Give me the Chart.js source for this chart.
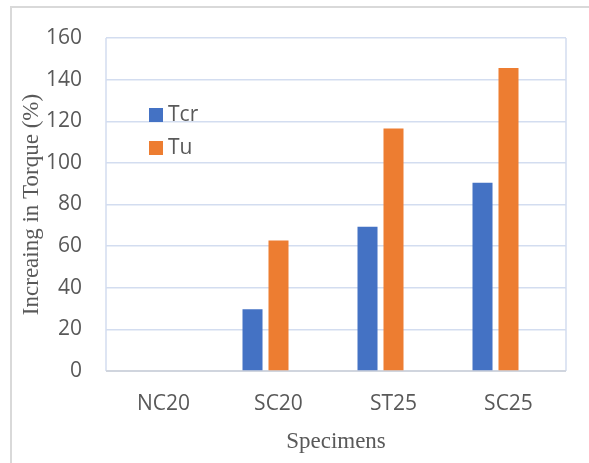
<!DOCTYPE html>
<html>
<head>
<meta charset="utf-8">
<script src="https://cdn.jsdelivr.net/npm/chart.js@4"></script>
<style>
  html, body { margin: 0; padding: 0; background: #fff; }
  #wrap { position: relative; width: 589px; height: 463px; overflow: hidden; }
  #legend { position: absolute; left: 149px; top: 101px; font-family: "Open Sans", sans-serif; font-size: 21px; color: #595959; }
  #legend .item { height: 33px; line-height: 24px; white-space: nowrap; }
  #legend .box { display: inline-block; width: 14px; height: 14px; margin-right: 5px; vertical-align: -1px; }
</style>
</head>
<body>
<div id="wrap">
  <canvas id="torqueChart" width="589" height="463"></canvas>
  <div id="legend"></div>
</div>
<script>
// data
var specimens = ["NC20", "SC20", "ST25", "SC25"];
var tcrValues = [0, 29.7, 69.3, 90.4];
var tuValues  = [0, 62.7, 116.5, 145.6];
var spareSlot = [null, null, null, null]; // empty third series in the original sheet
var yTicks    = [0, 20, 40, 60, 80, 100, 120, 140, 160];

var gridBlue = "#D3DDF0";
var textGrey = "#595959";

// frame around the picture + plot area border
var framePlugin = {
  id: "frame",
  beforeDraw: function(chart) {
    var c = chart.ctx;
    c.save();
    c.strokeStyle = "#D9D9D9";
    c.lineWidth = 2;
    c.beginPath();
    c.moveTo(11, 470);
    c.lineTo(11, 7);
    c.lineTo(600, 7);
    c.stroke();
    c.restore();
  },
  beforeDatasetsDraw: function(chart) {
    var a = chart.chartArea, c = chart.ctx;
    c.save();
    c.strokeStyle = gridBlue;
    c.lineWidth = 1.5;
    c.beginPath();
    c.moveTo(a.left, a.top);
    c.lineTo(a.left, a.bottom);
    c.moveTo(a.right, a.top);
    c.lineTo(a.right, a.bottom);
    c.stroke();
    c.strokeStyle = "#D0D5DE";
    c.lineWidth = 2;
    c.beginPath();
    c.moveTo(a.left, a.bottom);
    c.lineTo(a.right, a.bottom);
    c.stroke();
    c.restore();
  }
};

var ctx = document.getElementById("torqueChart").getContext("2d");
var torqueChart = new Chart(ctx, {
  type: "bar",
  data: {
    labels: specimens,
    datasets: [
      { label: "Tcr", data: tcrValues, backgroundColor: "#4472C4" },
      { label: "Tu",  data: tuValues,  backgroundColor: "#ED7D31" },
      { label: "",    data: spareSlot, backgroundColor: "rgba(0,0,0,0)" }
    ]
  },
  options: {
    responsive: false,
    animation: false,
    events: [],
    categoryPercentage: 0.678,
    barPercentage: 0.77,
    layout: { padding: { left: 11, top: 38, right: 23, bottom: 0 } },
    plugins: {
      legend: { display: false },
      tooltip: { enabled: false }
    },
    scales: {
      x: {
        grid: { display: false, drawTicks: false },
        border: { display: false },
        ticks: { color: textGrey, padding: 20, font: { family: "'Open Sans', sans-serif", size: 21 } },
        title: {
          display: true, text: "Specimens", color: textGrey,
          font: { family: "'Liberation Serif', serif", size: 23 },
          padding: { top: 0, bottom: 7 }
        },
        afterFit: function(scale) { scale.height = 92; }
      },
      y: {
        min: 0, max: 160,
        afterBuildTicks: function(scale) {
          scale.ticks = yTicks.map(function(v) { return { value: v }; });
        },
        grid: { color: gridBlue, lineWidth: 1.5, drawTicks: false },
        border: { display: false },
        ticks: { color: textGrey, padding: 24, font: { family: "'Open Sans', sans-serif", size: 21 } },
        title: {
          display: true, text: "Increaing in Torque (%)", color: textGrey,
          font: { family: "'Liberation Serif', serif", size: 23 },
          padding: { top: 7, bottom: 0 }
        },
        afterFit: function(scale) { scale.width = 95; }
      }
    }
  },
  plugins: [framePlugin]
});

// legend placed inside the plot like the original
var legendBox = document.getElementById("legend");
torqueChart.data.datasets.forEach(function(ds) {
  if (!ds.label) return;
  var item = document.createElement("div");
  item.className = "item";
  item.innerHTML = '<span class="box" style="background:' + ds.backgroundColor + '"></span>' + ds.label;
  legendBox.appendChild(item);
});
</script>
</body>
</html>
